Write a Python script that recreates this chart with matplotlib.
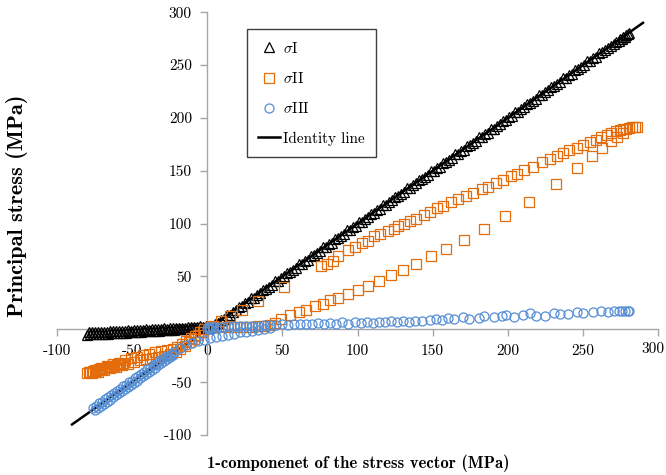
#!/usr/bin/env python3
# Principal stresses vs 1-component of the stress vector
import matplotlib
matplotlib.use("Agg")
import matplotlib.pyplot as plt

plt.rcParams["font.family"] = "cmr10"
plt.rcParams["mathtext.fontset"] = "cm"
plt.rcParams["axes.unicode_minus"] = False

# sigma I (triangles): compression band (two rows), then along identity
s1_x = [-1, -3, -5, -7, -9, -11, -13, -15, -17, -19, -21, -23, -25, -27, -29,
        -31, -33, -35, -37, -39, -41, -43, -45, -47, -49, -51, -53, -55, -57,
        -59, -61, -63, -65, -67, -69, -71, -73, -75, -77, -79,
        -2, -4, -6, -8, -10, -12, -14, -16, -18, -20, -22, -24, -26, -28, -30,
        -32, -34, -36, -38, -40, -42, -44, -46, -48, -50, -52, -54, -56, -58,
        -60, -62, -64, -66, -68, -70, -72, -74, -76, -78, -80,
        1, 2, 5, 9, 13, 17, 21, 25, 29, 33, 37, 41, 45, 49, 53, 57, 61, 65, 69,
        73, 77, 81, 85, 89, 93, 97, 101, 105, 109, 113, 117, 121, 125, 129, 133,
        137, 141, 145, 149, 153, 157, 161, 165, 169, 173, 177, 181, 185, 189,
        193, 197, 201, 205, 209, 213, 217, 221, 225, 229, 233, 237, 241, 245,
        249, 253, 257, 261, 265, 269, 272, 275, 277, 279, 280, 281,
        3, 7, 11, 15, 19, 23, 27, 31, 35, 39, 43, 47, 51, 55, 59, 63, 67, 71,
        75, 79, 83, 87, 91, 95, 99, 103, 107, 111, 115, 119, 123, 127, 131, 135,
        139, 143, 147, 151, 155, 159, 163, 167, 171, 175, 179, 183, 187, 191,
        195, 199, 203, 207, 211, 215, 219, 223, 227, 231, 235, 239, 243, 247,
        251, 255, 259, 263, 267, 271, 274, 276, 278]
s1_y = [3.0, 2.6, 2.7, 2.2, 2.4, 1.8, 2.0, 1.5, 1.7, 1.2, 1.4, 0.9, 1.1, 0.6, 0.8,
        0.3, 0.5, 0.0, 0.2, -0.3, -0.1, -0.6, -0.4, -0.9, -0.7, -1.2, -1.0, -1.5,
        -1.3, -1.8, -1.6, -2.0, -1.9, -2.3, -2.1, -2.5, -2.3, -2.7, -2.5, -2.8,
        1.5, 1.4, 1.2, 1.0, 0.9, 0.6, 0.5, 0.3, 0.1, -0.1, -0.2, -0.5, -0.6,
        -0.8, -1.0, -1.2, -1.3, -1.5, -1.7, -1.9, -2.0, -2.2, -2.4, -2.6, -2.7,
        -2.9, -3.1, -3.2, -3.4, -3.6, -3.7, -3.9, -4.0, -4.2, -4.3, -4.5, -4.6,
        -4.8, -4.9, -5.0,
        1.5, 2.5, 5.5, 8.5, 13.5, 16.5, 21.5, 24.5, 29.5, 32.5, 37.5, 40.5, 45.5,
        48.5, 53.5, 56.5, 61.5, 64.5, 69.5, 72.5, 77.5, 80.5, 85.5, 88.5, 93.5,
        96.5, 101.5, 104.5, 109.5, 112.5, 117.5, 120.5, 125.5, 128.5, 133.5,
        136.5, 141.5, 144.5, 149.5, 152.5, 157.5, 160.5, 165.5, 168.5, 173.5,
        176.5, 181.5, 184.5, 189.5, 192.5, 197.5, 200.5, 205.5, 208.5, 213.5,
        216.5, 221.5, 224.5, 229.5, 232.5, 237.5, 240.5, 245.5, 248.5, 253.5,
        256.5, 261.5, 264.5, 268.5, 271.5, 274.5, 276.5, 278.5, 279.5, 280.5,
        2.0, 6.0, 10.0, 14.0, 18.0, 22.0, 26.0, 30.0, 34.0, 38.0, 42.0, 46.0,
        50.0, 54.0, 58.0, 62.0, 66.0, 70.0, 74.0, 78.0, 82.0, 86.0, 90.0, 94.0,
        98.0, 102.0, 106.0, 110.0, 114.0, 118.0, 122.0, 126.0, 130.0, 134.0,
        138.0, 142.0, 146.0, 150.0, 154.0, 158.0, 162.0, 166.0, 170.0, 174.0,
        178.0, 182.0, 186.0, 190.0, 194.0, 198.0, 202.0, 206.0, 210.0, 214.0,
        218.0, 222.0, 226.0, 230.0, 234.0, 238.0, 242.0, 246.0, 250.0, 254.0,
        258.0, 262.0, 266.0, 270.0, 273.0, 275.0, 277.0]

# sigma II (squares): compression paths, near-identity start,
# upper tension branch, flat row and lower tension branch
s2_x = [-79, -75, -71, -67, -63, -59, -55, -51, -47, -43, -39, -35, -31, -27,
        -23, -20, -17, -14, -11, -8, -5, -2,
        -77, -73, -69, -65, -61, -57, -53, -49, -45, -41, -37, -33, -29, -25,
        -21, -18, -15, -12, -9, -6, -3,
        -80, -78, -76, -74, -72, -70, -68, -66, -64, -62, -60, -58, -56,
        4, 9, 15, 23, 34, 51,
        76, 80, 84, 87, 94, 98, 103, 107, 111, 115, 120, 124, 127, 131, 135, 139,
        144, 148, 153, 157, 162, 167, 172, 177, 183, 187, 192, 197, 202, 206,
        211, 217, 223, 228, 233, 237, 241, 246, 250, 255, 259, 262, 266, 269,
        272, 275, 277, 279, 281, 283, 285, 286,
        2, 6, 10, 14, 18, 22, 26, 30, 34, 38, 42, 45,
        49, 55, 61, 66, 72, 77, 82, 87, 94, 100, 107, 114, 122, 130, 139, 149,
        159, 171, 184, 198, 214, 232, 246, 256, 263, 269, 273, 277]
s2_y = [-40.5, -38.5, -37, -35, -33, -31.5, -29.5, -27.5, -26, -24.5, -23,
        -21.5, -20.5, -19.5, -18.5, -17, -14, -11, -8.5, -6, -3, 0,
        -41.5, -40, -38.5, -37, -35.5, -34, -32.5, -31, -29.5, -28, -27, -26,
        -25, -23.5, -21.5, -19, -15.5, -12, -9, -5.5, -2.5,
        -41, -40.5, -39.5, -39, -38, -37.5, -36.5, -36, -35, -34.5, -33.5, -33,
        -32,
        3.5, 7.5, 12.5, 18, 26.5, 40.5,
        59.5, 62, 64.2, 69, 75.3, 77.5, 81.6, 84, 87.9, 90, 92.6, 95, 97.4, 99.5,
        102.1, 104.5, 108.4, 111, 114.8, 117, 120.1, 123, 126.4, 129, 132.8,
        135, 138.4, 141.5, 144.7, 147, 151, 154, 158, 161, 163.6, 167, 170,
        172, 174.7, 177, 179.5, 182, 184.2, 186, 187.3, 188.5, 189.5, 190,
        190.5, 191, 191, 191,
        2, 2, 2, 2, 2, 2.2, 2.4, 2.6, 3, 3.5, 4.5, 6,
        9.5, 13.5, 16, 18.5, 21.6, 24.1, 27.3, 29.5, 33.6, 37.4, 41.2, 45.9, 51,
        56.3, 62, 69, 76.2, 84.8, 95.2, 107.2, 120.7, 137.8, 152.3, 163.6,
        171.9, 177.8, 182, 186]

# sigma III (circles): compression along identity (two rows), lower curve
# back to zero, cluster at origin and the low tension row
s3_x = [-76, -74, -72, -70, -68, -66, -64, -62, -60, -58, -56, -54, -52, -50,
        -48, -46, -44, -42, -40, -38, -36, -34, -32, -30, -28, -26, -24,
        -75, -73, -71, -69, -67, -65, -63, -61, -59, -57, -55, -53, -51, -49,
        -47, -45, -43, -41, -39, -37, -35, -33, -31, -29, -27, -25, -23,
        -22, -18, -14, -10, -6, -2, 2, 6, 10, 14, 18, 22, 26, 30, 34, 38, 42,
        0, 1, 2, 3, 4, 1,
        6, 10, 14, 18, 22, 26, 30, 34, 38, 42,
        46, 50, 54, 58, 62, 66, 70, 74, 78, 82, 86, 90, 94, 98, 102, 106, 110,
        114, 118, 122, 126, 130, 134, 138, 143, 148, 152, 156, 160, 164, 170,
        174, 181, 184, 191, 196, 199, 204, 210, 215, 219, 225, 231, 235, 240,
        246, 250, 257, 262, 267, 271, 274, 276, 278, 280, 281]
s3_y = [-74, -72.5, -70, -68.5, -66, -64.5, -62, -60.5, -58, -56.5, -54, -52.5,
        -50, -48.5, -46, -44.5, -42, -40.5, -38, -36.5, -34, -32.5, -30, -28.5,
        -26.5, -25, -23,
        -76.5, -74.5, -72.5, -70.5, -68.5, -66.5, -64.5, -62.5, -60.5, -58.5,
        -56.5, -54.5, -52.5, -50.5, -48.5, -46.5, -44.5, -42.5, -40.5, -38.5,
        -36.5, -34, -32, -30, -28, -26, -24,
        -21, -17.5, -15, -13, -11.5, -10, -8.5, -7, -6, -5, -4, -3, -2.2, -1.5,
        -0.8, 0, 0.8,
        1, 2, 1.5, 2, 2.5, 0.5,
        2.5, 2.5, 2.8, 3, 3, 3.2, 3.4, 3.6, 3.8, 4,
        4.5, 5, 4.5, 5.5, 5, 5.5, 5, 6, 5.5, 6, 5, 6.5, 5.5, 6.5, 6, 7, 6, 7,
        6.5, 7.5, 7, 8, 7, 8, 7.5, 9, 9.5, 8.5, 11, 9.5, 12, 10, 11, 12.5, 12,
        13, 14, 12, 14, 15, 13, 13, 15, 14.5, 14.5, 16, 15, 16, 17.5, 16.5,
        17.5, 17.5, 17.5, 17.5, 17.5, 17.5]

identity_x = [-90, 290]
identity_y = [-90, 290]

x_ticks = [-100, -50, 0, 50, 100, 150, 200, 250, 300]
y_ticks = [-100, -50, 50, 100, 150, 200, 250, 300]

orange = "#E46C0A"
blue = "#558ED5"
grey = "#A6A6A6"

fig = plt.figure(figsize=(6.66, 4.75), dpi=100)
ax = fig.add_axes([0.0856, 0.0842, 0.9024, 0.890])

ax.plot(identity_x, identity_y, color="black", lw=1.8, zorder=2,
        label="Identity line")
ax.plot(s1_x, s1_y, ls="none", marker="^", ms=6.5, mfc="none", mec="black",
        mew=0.9, zorder=3, label=r"$\sigma$I")
ax.plot(s2_x, s2_y, ls="none", marker="s", ms=6.5, mfc="none", mec=orange,
        mew=0.9, zorder=3, label=r"$\sigma$II")
ax.plot(s3_x, s3_y, ls="none", marker="o", ms=6.5, mfc="none", mec=blue,
        mew=0.9, zorder=3, label=r"$\sigma$III")

ax.set_xlim(-100, 300)
ax.set_ylim(-100, 300)
ax.spines["left"].set_position(("data", 0))
ax.spines["bottom"].set_position(("data", 0))
ax.spines["top"].set_visible(False)
ax.spines["right"].set_visible(False)
for s in ("left", "bottom"):
    ax.spines[s].set_color(grey)
    ax.spines[s].set_linewidth(1.0)
# last x label is drawn separately, shifted left to stay inside the figure
ax.set_xticks(x_ticks, [str(t) for t in x_ticks[:-1]] + [""])
ax.set_yticks(y_ticks, [str(t) for t in y_ticks])
ax.tick_params(direction="out", length=5, width=1.0, color=grey,
               labelsize=11, pad=6)
ax.annotate(str(x_ticks[-1]), xy=(x_ticks[-1], 0), xytext=(-4, -9.5),
            textcoords="offset points", ha="center", va="top", fontsize=11,
            annotation_clip=False)

handles, labels = ax.get_legend_handles_labels()
order = [1, 2, 3, 0]
leg = ax.legend([handles[i] for i in order], [labels[i] for i in order],
                loc="upper left", bbox_to_anchor=(0.3156, 0.9598),
                borderaxespad=0, fontsize=11, fancybox=False, framealpha=1,
                edgecolor="#404040", handlelength=1.4, handletextpad=0.2,
                labelspacing=1.0, borderpad=0.75)
leg.get_frame().set_linewidth(1.0)

fig.text(17 / 666, 1 - 206 / 475, "Principal stress (MPa)", rotation=90,
         ha="center", va="center", fontsize=16, fontfamily="cmb10")
fig.text(358 / 666, 1 - 463 / 475, "1-componenet of the stress vector (MPa)",
         ha="center", va="center", fontsize=12, fontfamily="cmb10")

fig.savefig("out.png", dpi=100)
